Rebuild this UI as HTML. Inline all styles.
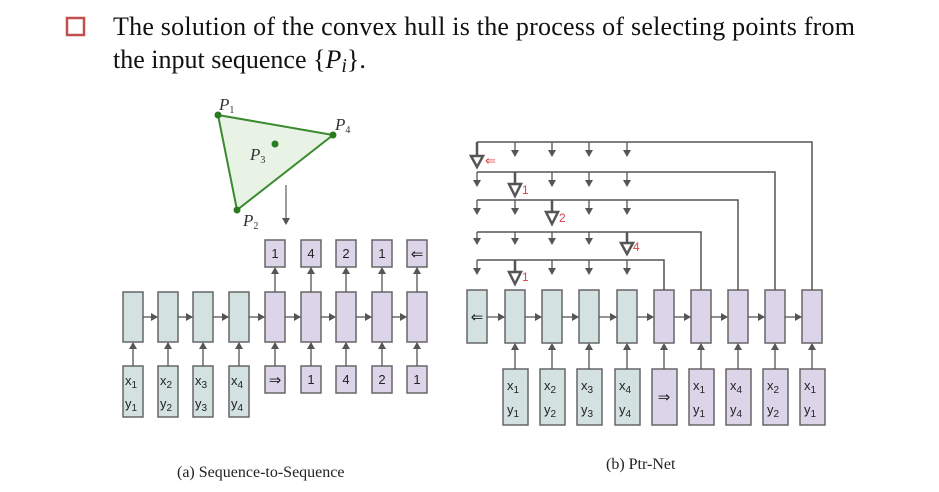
<!DOCTYPE html>
<html><head><meta charset="utf-8"><style>
body{margin:0;background:#fff;width:939px;height:492px;overflow:hidden}
svg{display:block}
.s{font-family:"Liberation Serif",serif}
.a{font-family:"Liberation Sans",sans-serif;font-size:13px;fill:#222}
</style></head><body>
<svg width="939" height="492" viewBox="0 0 939 492">
<defs>
<marker id="ah" markerWidth="8" markerHeight="8" refX="6" refY="4" orient="auto" markerUnits="userSpaceOnUse"><path d="M0,0 L7,4 L0,8 z" fill="#555"/></marker>
</defs>
<rect x="67" y="18" width="17" height="17" fill="none" stroke="#c0504d" stroke-width="2.5"/>
<text class="s" x="113" y="35" font-size="26" fill="#111" textLength="742" lengthAdjust="spacing">The solution of the convex hull is the process of selecting points from</text>
<text class="s" x="113" y="68" font-size="26" fill="#111">the input sequence {<tspan font-style="italic">P</tspan><tspan font-style="italic" font-size="20" dy="4">i</tspan><tspan dy="-4">}.</tspan></text>

<polygon points="218,115 333,135 237,210" fill="#e8f3e6" stroke="#3a8a2e" stroke-width="2"/>
<g fill="#2a7a22"><circle cx="218" cy="115" r="3.5"/><circle cx="333" cy="135" r="3.5"/><circle cx="237" cy="210" r="3.5"/><circle cx="275" cy="144" r="3.5"/></g>
<g class="s" font-style="italic" font-size="17" fill="#333">
<text x="219" y="110">P<tspan font-size="10" font-style="normal" dy="3">1</tspan></text>
<text x="335" y="130">P<tspan font-size="10" font-style="normal" dy="3">4</tspan></text>
<text x="250" y="160">P<tspan font-size="10" font-style="normal" dy="3">3</tspan></text>
<text x="243" y="226">P<tspan font-size="10" font-style="normal" dy="3">2</tspan></text>
</g>
<line x1="286" y1="185" x2="286" y2="224" stroke="#666" stroke-width="1.3" marker-end="url(#ah)"/>

<g stroke="#666" stroke-width="1.5">
<g fill="#d3e1e1">
<rect x="123" y="292" width="20" height="50"/><rect x="158" y="292" width="20" height="50"/><rect x="193" y="292" width="20" height="50"/><rect x="229" y="292" width="20" height="50"/>
<rect x="123" y="366" width="20" height="51"/><rect x="158" y="366" width="20" height="51"/><rect x="193" y="366" width="20" height="51"/><rect x="229" y="366" width="20" height="51"/>
</g>
<g fill="#dcd5ea">
<rect x="265" y="292" width="20" height="50"/><rect x="301" y="292" width="20" height="50"/><rect x="336" y="292" width="20" height="50"/><rect x="372" y="292" width="20" height="50"/><rect x="407" y="292" width="20" height="50"/>
<rect x="265" y="240" width="20" height="27"/><rect x="301" y="240" width="20" height="27"/><rect x="336" y="240" width="20" height="27"/><rect x="372" y="240" width="20" height="27"/><rect x="407" y="240" width="20" height="27"/>
<rect x="265" y="366" width="20" height="27"/><rect x="301" y="366" width="20" height="27"/><rect x="336" y="366" width="20" height="27"/><rect x="372" y="366" width="20" height="27"/><rect x="407" y="366" width="20" height="27"/>
</g>
</g>
<g stroke="#555" stroke-width="1.3" marker-end="url(#ah)">
<line x1="143" y1="317" x2="157" y2="317"/><line x1="178" y1="317" x2="192" y2="317"/><line x1="213" y1="317" x2="228" y2="317"/><line x1="249" y1="317" x2="264" y2="317"/><line x1="285" y1="317" x2="300" y2="317"/><line x1="321" y1="317" x2="335" y2="317"/><line x1="356" y1="317" x2="371" y2="317"/><line x1="392" y1="317" x2="406" y2="317"/>
<line x1="133" y1="366" x2="133" y2="343"/><line x1="168" y1="366" x2="168" y2="343"/><line x1="203" y1="366" x2="203" y2="343"/><line x1="239" y1="366" x2="239" y2="343"/><line x1="275" y1="366" x2="275" y2="343"/><line x1="311" y1="366" x2="311" y2="343"/><line x1="346" y1="366" x2="346" y2="343"/><line x1="382" y1="366" x2="382" y2="343"/><line x1="417" y1="366" x2="417" y2="343"/>
<line x1="275" y1="292" x2="275" y2="268"/><line x1="311" y1="292" x2="311" y2="268"/><line x1="346" y1="292" x2="346" y2="268"/><line x1="382" y1="292" x2="382" y2="268"/><line x1="417" y1="292" x2="417" y2="268"/>
</g>
<g class="a" text-anchor="middle">
<text x="275" y="258">1</text><text x="311" y="258">4</text><text x="346" y="258">2</text><text x="382" y="258">1</text><text x="417" y="259" font-size="15">⇐</text>
<text x="275" y="385" font-size="15">⇒</text><text x="311" y="384">1</text><text x="346" y="384">4</text><text x="382" y="384">2</text><text x="417" y="384">1</text>
<text x="131" y="385">x<tspan font-size="10" dy="3">1</tspan></text><text x="131" y="408">y<tspan font-size="10" dy="3">1</tspan></text>
<text x="166" y="385">x<tspan font-size="10" dy="3">2</tspan></text><text x="166" y="408">y<tspan font-size="10" dy="3">2</tspan></text>
<text x="201" y="385">x<tspan font-size="10" dy="3">3</tspan></text><text x="201" y="408">y<tspan font-size="10" dy="3">3</tspan></text>
<text x="237" y="385">x<tspan font-size="10" dy="3">4</tspan></text><text x="237" y="408">y<tspan font-size="10" dy="3">4</tspan></text>
</g>

<g stroke="#666" stroke-width="1.5">
<g fill="#d3e1e1">
<rect x="467" y="290" width="20" height="53"/><rect x="505" y="290" width="20" height="53"/><rect x="542" y="290" width="20" height="53"/><rect x="579" y="290" width="20" height="53"/><rect x="617" y="290" width="20" height="53"/>
<rect x="503" y="369" width="25" height="56"/><rect x="540" y="369" width="25" height="56"/><rect x="577" y="369" width="25" height="56"/><rect x="615" y="369" width="25" height="56"/>
</g>
<g fill="#dcd5ea">
<rect x="654" y="290" width="20" height="53"/><rect x="691" y="290" width="20" height="53"/><rect x="728" y="290" width="20" height="53"/><rect x="765" y="290" width="20" height="53"/><rect x="802" y="290" width="20" height="53"/>
<rect x="652" y="369" width="25" height="56"/><rect x="689" y="369" width="25" height="56"/><rect x="726" y="369" width="25" height="56"/><rect x="763" y="369" width="25" height="56"/><rect x="800" y="369" width="25" height="56"/>
</g>
</g>
<g stroke="#555" stroke-width="1.3" marker-end="url(#ah)">
<line x1="487" y1="317" x2="504" y2="317"/><line x1="525" y1="317" x2="541" y2="317"/><line x1="562" y1="317" x2="578" y2="317"/><line x1="599" y1="317" x2="616" y2="317"/><line x1="637" y1="317" x2="653" y2="317"/><line x1="674" y1="317" x2="690" y2="317"/><line x1="711" y1="317" x2="727" y2="317"/><line x1="748" y1="317" x2="764" y2="317"/><line x1="785" y1="317" x2="801" y2="317"/>
<line x1="515" y1="369" x2="515" y2="344"/><line x1="552" y1="369" x2="552" y2="344"/><line x1="589" y1="369" x2="589" y2="344"/><line x1="627" y1="369" x2="627" y2="344"/><line x1="664" y1="369" x2="664" y2="344"/><line x1="701" y1="369" x2="701" y2="344"/><line x1="738" y1="369" x2="738" y2="344"/><line x1="775" y1="369" x2="775" y2="344"/><line x1="812" y1="369" x2="812" y2="344"/>
</g>
<g fill="none" stroke="#555" stroke-width="1.5">
<polyline points="477,142 812,142 812,290"/>
<polyline points="477,172 775,172 775,290"/>
<polyline points="477,200 738,200 738,290"/>
<polyline points="477,232 701,232 701,290"/>
<polyline points="477,260 664,260 664,290"/>
</g>
<g stroke="#555" stroke-width="1.3" marker-end="url(#ah)">
<line x1="515" y1="142" x2="515" y2="156"/><line x1="552" y1="142" x2="552" y2="156"/><line x1="589" y1="142" x2="589" y2="156"/><line x1="627" y1="142" x2="627" y2="156"/>
<line x1="477" y1="172" x2="477" y2="186"/><line x1="552" y1="172" x2="552" y2="186"/><line x1="589" y1="172" x2="589" y2="186"/><line x1="627" y1="172" x2="627" y2="186"/>
<line x1="477" y1="200" x2="477" y2="214"/><line x1="515" y1="200" x2="515" y2="214"/><line x1="589" y1="200" x2="589" y2="214"/><line x1="627" y1="200" x2="627" y2="214"/>
<line x1="477" y1="232" x2="477" y2="244"/><line x1="515" y1="232" x2="515" y2="244"/><line x1="552" y1="232" x2="552" y2="244"/><line x1="589" y1="232" x2="589" y2="244"/>
<line x1="477" y1="260" x2="477" y2="274"/><line x1="552" y1="260" x2="552" y2="274"/><line x1="589" y1="260" x2="589" y2="274"/><line x1="627" y1="260" x2="627" y2="274"/>
</g>
<g fill="#fff" stroke="#555" stroke-width="2.5">
<line x1="477" y1="142" x2="477" y2="156"/><polygon points="471,156 483,156 477,167"/>
<line x1="515" y1="172" x2="515" y2="184"/><polygon points="509,184 521,184 515,196"/>
<line x1="552" y1="200" x2="552" y2="212"/><polygon points="546,212 558,212 552,224"/>
<line x1="627" y1="232" x2="627" y2="243"/><polygon points="621,243 633,243 627,254"/>
<line x1="515" y1="260" x2="515" y2="272"/><polygon points="509,272 521,272 515,284"/>
</g>
<g font-family="Liberation Sans,sans-serif" font-size="12" fill="#e0404a">
<text x="485" y="165" font-size="13">⇐</text><text x="522" y="194">1</text><text x="559" y="222">2</text><text x="633" y="251">4</text><text x="522" y="281">1</text>
</g>
<g class="a" text-anchor="middle">
<text x="477" y="322" font-size="15">⇐</text>
<text x="664" y="402" font-size="15">⇒</text>
<text x="513" y="390">x<tspan font-size="10" dy="3">1</tspan></text><text x="513" y="414">y<tspan font-size="10" dy="3">1</tspan></text>
<text x="550" y="390">x<tspan font-size="10" dy="3">2</tspan></text><text x="550" y="414">y<tspan font-size="10" dy="3">2</tspan></text>
<text x="587" y="390">x<tspan font-size="10" dy="3">3</tspan></text><text x="587" y="414">y<tspan font-size="10" dy="3">3</tspan></text>
<text x="625" y="390">x<tspan font-size="10" dy="3">4</tspan></text><text x="625" y="414">y<tspan font-size="10" dy="3">4</tspan></text>
<text x="699" y="390">x<tspan font-size="10" dy="3">1</tspan></text><text x="699" y="414">y<tspan font-size="10" dy="3">1</tspan></text>
<text x="736" y="390">x<tspan font-size="10" dy="3">4</tspan></text><text x="736" y="414">y<tspan font-size="10" dy="3">4</tspan></text>
<text x="773" y="390">x<tspan font-size="10" dy="3">2</tspan></text><text x="773" y="414">y<tspan font-size="10" dy="3">2</tspan></text>
<text x="810" y="390">x<tspan font-size="10" dy="3">1</tspan></text><text x="810" y="414">y<tspan font-size="10" dy="3">1</tspan></text>
</g>

<text class="s" x="177" y="477" font-size="16" fill="#222">(a) Sequence-to-Sequence</text>
<text class="s" x="606" y="469" font-size="16" fill="#222">(b) Ptr-Net</text>
</svg>
</body></html>
